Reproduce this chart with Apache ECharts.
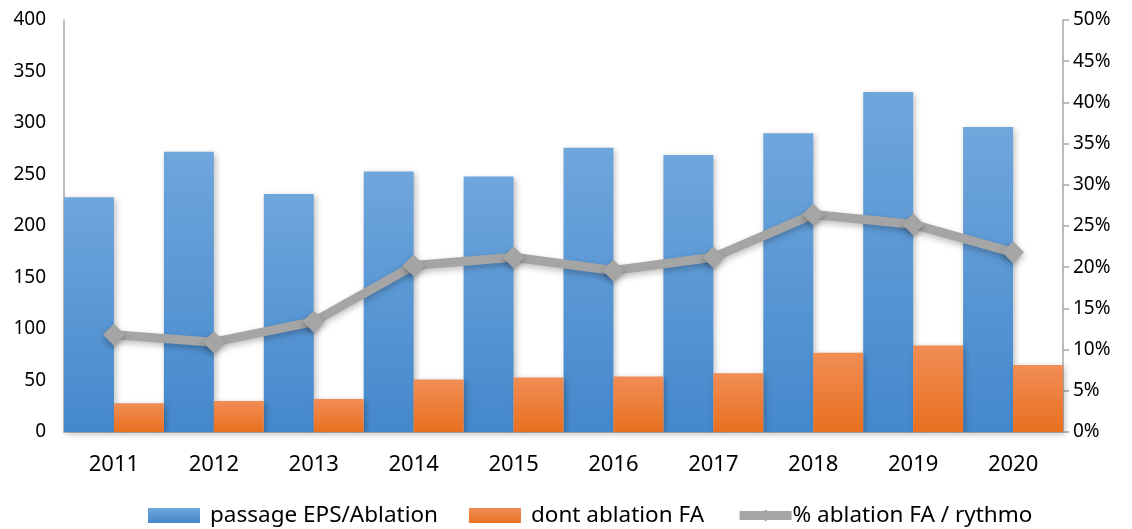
<!DOCTYPE html>
<html>
<head>
<meta charset="utf-8">
<script src="https://cdn.jsdelivr.net/npm/echarts@6/dist/echarts.min.js"></script>
<style>
  html, body { margin: 0; padding: 0; background: #fff; }
  #chart { width: 1132px; height: 529px; }
</style>
</head>
<body>
<div id="chart"></div>
<script>
const years = ['2011', '2012', '2013', '2014', '2015', '2016', '2017', '2018', '2019', '2020'];
const passageEps = [228, 272, 231, 253, 248, 276, 269, 290, 330, 296];
const dontAblation = [28, 30, 32, 51, 53, 54, 57, 77, 84, 65];
const pctAblation = [0.118, 0.109, 0.134, 0.202, 0.212, 0.196, 0.212, 0.264, 0.252, 0.218];

const font = 'Noto Sans';
const chart = echarts.init(document.getElementById('chart'));

const grad = (top, bottom) => new echarts.graphic.LinearGradient(0, 0, 0, 1, [
  { offset: 0, color: top },
  { offset: 1, color: bottom },
]);

chart.setOption({
  animation: false,
  textStyle: { fontFamily: font, color: '#000' },
  grid: { left: 64, right: 69, top: 20, bottom: 97 },
  legend: {
    top: 499,
    left: 143,
    itemWidth: 52,
    itemHeight: 15,
    itemGap: 31,
    textStyle: { fontSize: 22.5, color: '#000', fontFamily: font, padding: [0, 0, 0, 5] },
    data: [
      { name: 'passage EPS/Ablation', icon: 'rect' },
      { name: 'dont ablation FA', icon: 'rect' },
      {
        name: '% ablation FA / rythmo',
        itemStyle: { color: '#a5a5a5' },
        lineStyle: { color: '#a5a5a5', width: 9 },
        textStyle: { padding: [0, 0, 0, -4] },
      },
    ],
  },
  xAxis: {
    type: 'category',
    data: years,
    axisLine: { lineStyle: { color: '#a6a6a6', width: 1.5 } },
    axisTick: { show: false },
    axisLabel: { fontSize: 22, color: '#000', margin: 22 },
  },
  yAxis: [
    {
      type: 'value',
      min: 0,
      max: 400,
      interval: 50,
      splitLine: { show: false },
      axisLine: { show: true, lineStyle: { color: '#a6a6a6', width: 1.5 } },
      axisTick: { show: false },
      axisLabel: { fontSize: 19, color: '#000', margin: 18 },
    },
    {
      type: 'value',
      min: 0,
      max: 0.5,
      interval: 0.05,
      splitLine: { show: false },
      axisLine: { show: true, lineStyle: { color: '#a6a6a6', width: 1.5 } },
      axisTick: { show: true, length: 6, lineStyle: { color: '#a6a6a6', width: 1.5 } },
      axisLabel: {
        fontSize: 19,
        color: '#000',
        margin: 10,
        formatter: (v) => Math.round(v * 100) + '%',
      },
    },
  ],
  series: [
    {
      name: 'passage EPS/Ablation',
      type: 'bar',
      data: passageEps,
      barGap: '0%',
      barCategoryGap: '0%',
      itemStyle: {
        color: grad('#6fa6dc', '#4488cc'),
        shadowColor: 'rgba(0,0,0,0.25)',
        shadowBlur: 6,
        shadowOffsetX: 2,
        shadowOffsetY: 2,
      },
    },
    {
      name: 'dont ablation FA',
      type: 'bar',
      data: dontAblation,
      itemStyle: {
        color: grad('#f18d55', '#e8701f'),
        shadowColor: 'rgba(0,0,0,0.25)',
        shadowBlur: 6,
        shadowOffsetX: 2,
        shadowOffsetY: 2,
      },
    },
    {
      name: '% ablation FA / rythmo',
      type: 'line',
      yAxisIndex: 1,
      data: pctAblation,
      symbol: 'diamond',
      symbolSize: 22,
      lineStyle: { color: '#a5a5a5', width: 9, shadowColor: 'rgba(0,0,0,0.25)', shadowBlur: 6, shadowOffsetY: 3 },
      itemStyle: { color: '#a5a5a5', shadowColor: 'rgba(0,0,0,0.3)', shadowBlur: 6, shadowOffsetY: 3 },
      z: 5,
    },
  ],
});
</script>
</body>
</html>
